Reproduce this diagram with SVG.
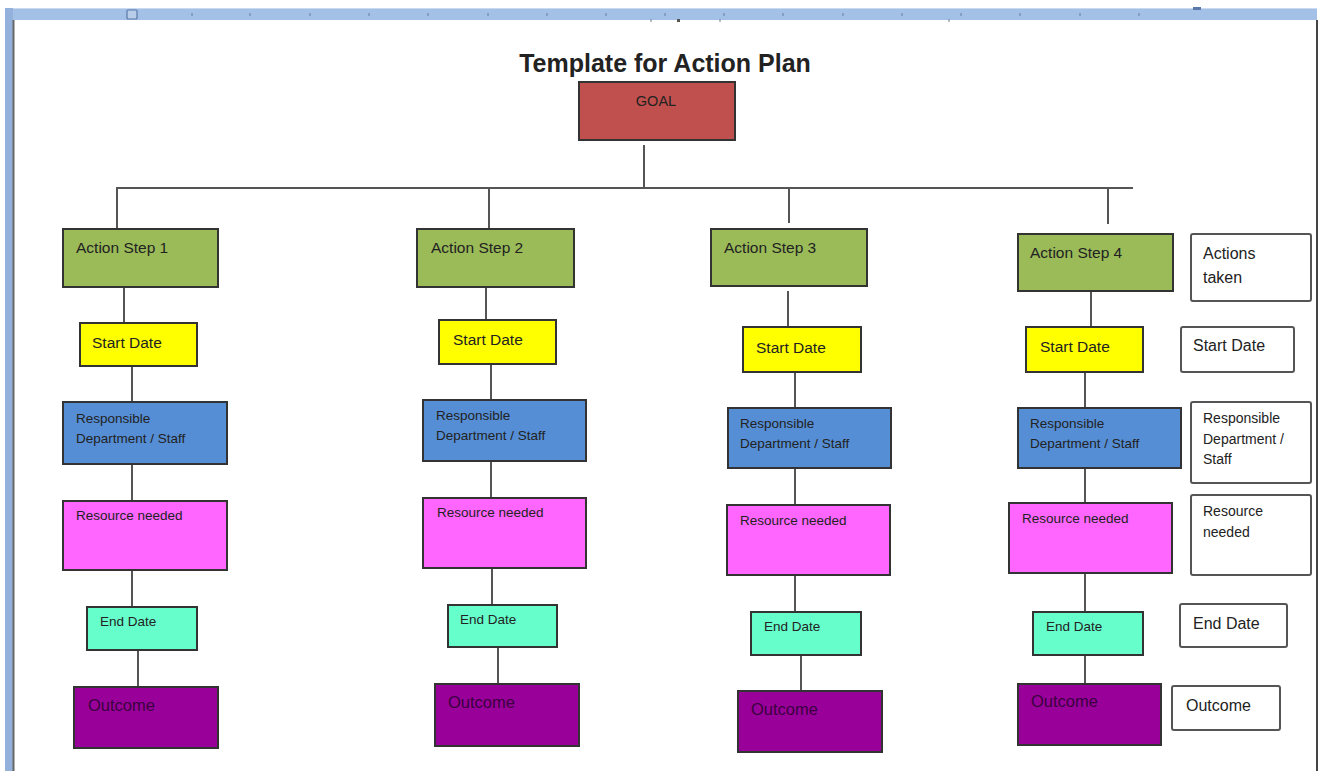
<svg xmlns="http://www.w3.org/2000/svg" width="1320" height="771" viewBox="0 0 1320 771">
<style>
  .box { stroke: #333; stroke-width: 2; }
  .green { fill: #9BBB59; }
  .yellow { fill: #FFFF00; }
  .blue { fill: #558ED5; }
  .pink { fill: #FF66FF; }
  .teal { fill: #66FFCC; }
  .purple { fill: #990099; }
  .goal { fill: #C0504D; }
  .plain { fill: #FFFFFF; stroke: #555; stroke-width: 2; }
  .conn line { stroke: #555; stroke-width: 2; }
  text { font-family: "Liberation Sans", Arial, sans-serif; fill: #222; }
  .t-step { font-size: 15.5px; }
  .t-start { font-size: 15.5px; }
  .t-small { font-size: 13.5px; }
  .t-out { font-size: 16.5px; fill: #3a0040; }
  .t-side { font-size: 16px; }
  .t-side-s { font-size: 14px; }
  .tick { stroke: #6a7f9c; stroke-width: 1; }
</style>

<!-- frame / ruler -->
<g id="frame">
  <rect x="5" y="8" width="1312" height="12" fill="#A3C0E6"/>
  <line x1="5" y1="8.5" x2="1317" y2="8.5" stroke="#C9DAF0" stroke-width="1"/>
  <rect x="5" y="8" width="8" height="763" fill="#93B1DA"/>
  <line x1="13.5" y1="20" x2="13.5" y2="771" stroke="#666" stroke-width="2"/>
  <line x1="1317" y1="20" x2="1317" y2="771" stroke="#444" stroke-width="2"/>
  <rect x="127" y="10" width="10" height="9" fill="#B8CDEA" stroke="#5B79A8" stroke-width="1.2" rx="1"/>
  <rect x="1193" y="7" width="8" height="3" fill="#5B79A8"/>
  <g class="tick">
    <line x1="192" y1="13" x2="192" y2="16"/><line x1="250" y1="13" x2="250" y2="16"/>
    <line x1="310" y1="13" x2="310" y2="16"/><line x1="369" y1="13" x2="369" y2="16"/>
    <line x1="428" y1="13" x2="428" y2="16"/><line x1="488" y1="13" x2="488" y2="16"/>
    <line x1="547" y1="13" x2="547" y2="16"/><line x1="606" y1="13" x2="606" y2="16"/>
    <line x1="665" y1="13" x2="665" y2="16"/><line x1="724" y1="13" x2="724" y2="16"/>
    <line x1="783" y1="13" x2="783" y2="16"/><line x1="843" y1="13" x2="843" y2="16"/>
    <line x1="902" y1="13" x2="902" y2="16"/><line x1="961" y1="13" x2="961" y2="16"/>
    <line x1="1020" y1="13" x2="1020" y2="16"/><line x1="1080" y1="13" x2="1080" y2="16"/>
    <line x1="1139" y1="13" x2="1139" y2="16"/>
    <line x1="651" y1="19" x2="651" y2="22"/><line x1="720" y1="19" x2="720" y2="22"/>
    <line x1="949" y1="19" x2="949" y2="22"/>
  </g>
  <rect x="677" y="19" width="3" height="3" fill="#555"/>
</g>

<text x="665" y="72" text-anchor="middle" font-size="25" font-weight="bold" fill="#1a1a1a">Template for Action Plan</text>

<!-- connectors -->
<g id="connectors" class="conn">
  <line x1="644" y1="145" x2="644" y2="188"/>
  <line x1="116" y1="188" x2="1133" y2="188"/>
  <line x1="117" y1="188" x2="117" y2="229"/>
  <line x1="489" y1="188" x2="489" y2="229"/>
  <line x1="789" y1="188" x2="789" y2="223"/>
  <line x1="1108" y1="188" x2="1108" y2="224"/>
  <!-- column 1 -->
  <line x1="124" y1="287" x2="124" y2="323"/>
  <line x1="132" y1="366" x2="132" y2="402"/>
  <line x1="132" y1="464" x2="132" y2="501"/>
  <line x1="132" y1="570" x2="132" y2="607"/>
  <line x1="138" y1="650" x2="138" y2="687"/>
  <!-- column 2 -->
  <line x1="486" y1="287" x2="486" y2="320"/>
  <line x1="491" y1="364" x2="491" y2="400"/>
  <line x1="491" y1="461" x2="491" y2="498"/>
  <line x1="492" y1="568" x2="492" y2="605"/>
  <line x1="498" y1="647" x2="498" y2="684"/>
  <!-- column 3 -->
  <line x1="788" y1="291" x2="788" y2="327"/>
  <line x1="795" y1="372" x2="795" y2="408"/>
  <line x1="795" y1="468" x2="795" y2="505"/>
  <line x1="795" y1="575" x2="795" y2="612"/>
  <line x1="801" y1="655" x2="801" y2="691"/>
  <!-- column 4 -->
  <line x1="1091" y1="291" x2="1091" y2="327"/>
  <line x1="1085" y1="372" x2="1085" y2="408"/>
  <line x1="1085" y1="468" x2="1085" y2="503"/>
  <line x1="1085" y1="573" x2="1085" y2="612"/>
  <line x1="1085" y1="655" x2="1085" y2="690"/>
</g>

<g id="goal">
  <rect class="box goal" x="579" y="82" width="156" height="58"/>
  <text x="656" y="106" text-anchor="middle" font-size="14.5" fill="#5a1c1c">GOAL</text>
</g>

<!-- column 1 -->
<g id="step1"><rect class="box green" x="63" y="229" width="155" height="58"/><text class="t-step" x="76" y="253">Action Step 1</text></g>
<g id="start1"><rect class="box yellow" x="80" y="323" width="117" height="43"/><text class="t-start" x="92" y="348">Start Date</text></g>
<g id="resp1"><rect class="box blue" x="63" y="402" width="164" height="62"/><text class="t-small" x="76" y="423">Responsible</text><text class="t-small" x="76" y="443">Department / Staff</text></g>
<g id="res1"><rect class="box pink" x="63" y="501" width="164" height="69"/><text class="t-small" x="76" y="520">Resource needed</text></g>
<g id="end1"><rect class="box teal" x="87" y="607" width="110" height="43"/><text class="t-small" x="100" y="626">End Date</text></g>
<g id="out1"><rect class="box purple" x="74" y="687" width="144" height="61"/><text class="t-out" x="88" y="711">Outcome</text></g>

<!-- column 2 -->
<g id="step2"><rect class="box green" x="417" y="229" width="157" height="58"/><text class="t-step" x="431" y="253">Action Step 2</text></g>
<g id="start2"><rect class="box yellow" x="439" y="320" width="117" height="44"/><text class="t-start" x="453" y="345">Start Date</text></g>
<g id="resp2"><rect class="box blue" x="423" y="400" width="163" height="61"/><text class="t-small" x="436" y="420">Responsible</text><text class="t-small" x="436" y="440">Department / Staff</text></g>
<g id="res2"><rect class="box pink" x="423" y="498" width="163" height="70"/><text class="t-small" x="437" y="517">Resource needed</text></g>
<g id="end2"><rect class="box teal" x="448" y="605" width="109" height="42"/><text class="t-small" x="460" y="624">End Date</text></g>
<g id="out2"><rect class="box purple" x="435" y="684" width="144" height="62"/><text class="t-out" x="448" y="708">Outcome</text></g>

<!-- column 3 -->
<g id="step3"><rect class="box green" x="711" y="229" width="156" height="57"/><text class="t-step" x="724" y="253">Action Step 3</text></g>
<g id="start3"><rect class="box yellow" x="743" y="327" width="118" height="45"/><text class="t-start" x="756" y="353">Start Date</text></g>
<g id="resp3"><rect class="box blue" x="728" y="408" width="163" height="60"/><text class="t-small" x="740" y="428">Responsible</text><text class="t-small" x="740" y="448">Department / Staff</text></g>
<g id="res3"><rect class="box pink" x="727" y="505" width="163" height="70"/><text class="t-small" x="740" y="525">Resource needed</text></g>
<g id="end3"><rect class="box teal" x="751" y="612" width="110" height="43"/><text class="t-small" x="764" y="631">End Date</text></g>
<g id="out3"><rect class="box purple" x="738" y="691" width="144" height="61"/><text class="t-out" x="751" y="715">Outcome</text></g>

<!-- column 4 -->
<g id="step4"><rect class="box green" x="1018" y="234" width="155" height="57"/><text class="t-step" x="1030" y="258">Action Step 4</text></g>
<g id="start4"><rect class="box yellow" x="1026" y="327" width="117" height="45"/><text class="t-start" x="1040" y="352">Start Date</text></g>
<g id="resp4"><rect class="box blue" x="1018" y="408" width="163" height="60"/><text class="t-small" x="1030" y="428">Responsible</text><text class="t-small" x="1030" y="448">Department / Staff</text></g>
<g id="res4"><rect class="box pink" x="1009" y="503" width="163" height="70"/><text class="t-small" x="1022" y="523">Resource needed</text></g>
<g id="end4"><rect class="box teal" x="1033" y="612" width="110" height="43"/><text class="t-small" x="1046" y="631">End Date</text></g>
<g id="out4"><rect class="box purple" x="1018" y="684" width="143" height="61"/><text class="t-out" x="1031" y="707">Outcome</text></g>

<!-- side legend -->
<g id="side-actions"><rect class="plain" x="1191" y="234" width="120" height="67" rx="2"/><text class="t-side" x="1203" y="259">Actions</text><text class="t-side" x="1203" y="283">taken</text></g>
<g id="side-start"><rect class="plain" x="1181" y="327" width="113" height="45" rx="2"/><text class="t-side" x="1193" y="351">Start Date</text></g>
<g id="side-resp"><rect class="plain" x="1191" y="402" width="120" height="81" rx="2"/><text class="t-side-s" x="1203" y="423">Responsible</text><text class="t-side-s" x="1203" y="444">Department /</text><text class="t-side-s" x="1203" y="464">Staff</text></g>
<g id="side-res"><rect class="plain" x="1191" y="495" width="120" height="80" rx="2"/><text class="t-side-s" x="1203" y="516">Resource</text><text class="t-side-s" x="1203" y="537">needed</text></g>
<g id="side-end"><rect class="plain" x="1180" y="604" width="107" height="43" rx="2"/><text class="t-side" x="1193" y="629">End Date</text></g>
<g id="side-out"><rect class="plain" x="1172" y="686" width="108" height="44" rx="2"/><text class="t-side" x="1186" y="711">Outcome</text></g>
</svg>
